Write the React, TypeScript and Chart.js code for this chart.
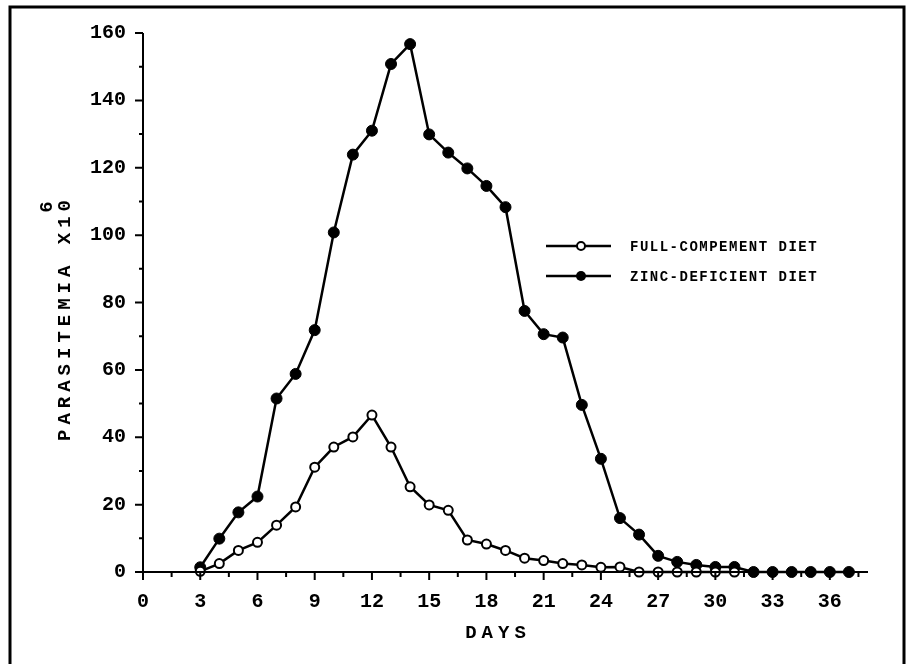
import React, { useEffect, useRef } from "react";
import { Chart, registerables } from "chart.js";

Chart.register(...registerables);

// ---- data ----
const FULL_DAYS = [3, 4, 5, 6, 7, 8, 9, 10, 11, 12, 13, 14, 15, 16, 17, 18, 19, 20, 21, 22, 23, 24, 25, 26, 27, 28, 29, 30, 31];
const FULL_VALUES = [0.2, 2.5, 6.4, 8.8, 13.9, 19.3, 31.1, 37.1, 40.1, 46.6, 37.1, 25.3, 19.9, 18.3, 9.5, 8.3, 6.4, 4.1, 3.4, 2.5, 2.1, 1.4, 1.5, 0, 0, 0, 0, 0, 0];
const ZINC_DAYS = [3, 4, 5, 6, 7, 8, 9, 10, 11, 12, 13, 14, 15, 16, 17, 18, 19, 20, 21, 22, 23, 24, 25, 26, 27, 28, 29, 30, 31, 32, 33, 34, 35, 36, 37];
const ZINC_VALUES = [1.4, 9.9, 17.7, 22.4, 51.5, 58.8, 71.8, 100.8, 123.9, 131, 150.8, 156.7, 129.9, 124.5, 119.8, 114.6, 108.3, 77.5, 70.6, 69.6, 49.6, 33.6, 16, 11.1, 4.8, 3.0, 2.1, 1.5, 1.5, 0, 0, 0, 0, 0, 0];

const X_LABEL_TICKS = [0, 3, 6, 9, 12, 15, 18, 21, 24, 27, 30, 33, 36];
const X_MINOR_TICKS = [1.5, 4.5, 7.5, 10.5, 13.5, 16.5, 19.5, 22.5, 25.5, 28.5, 31.5, 34.5, 37.5];
const Y_LABEL_TICKS = [0, 20, 40, 60, 80, 100, 120, 140, 160];
const Y_MINOR_TICKS = [10, 30, 50, 70, 90, 110, 130, 150];

const SERIES_NAMES = ["FULL-COMPEMENT DIET", "ZINC-DEFICIENT DIET"];
const X_TITLE = "DAYS";
const Y_TITLE = "PARASITEMIA X10";
const Y_TITLE_EXP = "6";

const MONO = "'Liberation Mono', 'Courier New', monospace";

const decorPlugin = {
  id: "decor",
  afterDraw(chart: any) {
    const ctx = chart.ctx as CanvasRenderingContext2D;
    const xs = chart.scales.x;
    const ys = chart.scales.y;
    const left = xs.getPixelForValue(0);
    const y0 = ys.getPixelForValue(0);
    const yTop = ys.getPixelForValue(160);
    const xRight = xs.getPixelForValue(38);
    ctx.save();
    ctx.strokeStyle = "#000";
    ctx.fillStyle = "#000";

    // outer frame (open at bottom)
    ctx.lineWidth = 3;
    ctx.beginPath();
    ctx.moveTo(10, 664);
    ctx.lineTo(10, 7);
    ctx.lineTo(904, 7);
    ctx.lineTo(904, 664);
    ctx.stroke();

    // axes
    ctx.lineWidth = 2;
    ctx.beginPath();
    ctx.moveTo(left, yTop);
    ctx.lineTo(left, y0 + 7);
    ctx.moveTo(left - 8, y0);
    ctx.lineTo(xRight, y0);
    ctx.stroke();

    // x ticks
    ctx.beginPath();
    X_LABEL_TICKS.forEach((v) => {
      const px = xs.getPixelForValue(v);
      ctx.moveTo(px, y0);
      ctx.lineTo(px, y0 + 8);
    });
    X_MINOR_TICKS.forEach((v) => {
      const px = xs.getPixelForValue(v);
      ctx.moveTo(px, y0);
      ctx.lineTo(px, y0 + 5);
    });
    // y ticks
    Y_LABEL_TICKS.forEach((v) => {
      const py = ys.getPixelForValue(v);
      ctx.moveTo(left - 8, py);
      ctx.lineTo(left, py);
    });
    Y_MINOR_TICKS.forEach((v) => {
      const py = ys.getPixelForValue(v);
      ctx.moveTo(left - 4, py);
      ctx.lineTo(left, py);
    });
    ctx.stroke();

    // axis titles
    (ctx as any).letterSpacing = "5px";
    ctx.font = `bold 19px ${MONO}`;
    ctx.textAlign = "center";
    ctx.textBaseline = "middle";
    ctx.fillText(X_TITLE, 498, 633);

    ctx.save();
    ctx.translate(65, 318);
    ctx.rotate(-Math.PI / 2);
    ctx.fillText(Y_TITLE, 0, 0);
    (ctx as any).letterSpacing = "0px";
    ctx.fillText(Y_TITLE_EXP, 111, -18);
    ctx.restore();

    // legend
    const rows = [
      { y: 246, open: true },
      { y: 276, open: false },
    ];
    rows.forEach((r, i) => {
      ctx.lineWidth = 2.5;
      ctx.beginPath();
      ctx.moveTo(546, r.y);
      ctx.lineTo(611, r.y);
      ctx.stroke();
      ctx.beginPath();
      if (r.open) {
        ctx.arc(581, r.y, 4, 0, Math.PI * 2);
        ctx.fillStyle = "#fff";
        ctx.fill();
        ctx.lineWidth = 2;
        ctx.stroke();
      } else {
        ctx.arc(581, r.y, 5, 0, Math.PI * 2);
        ctx.fillStyle = "#000";
        ctx.fill();
      }
      ctx.fillStyle = "#000";
      (ctx as any).letterSpacing = "1.5px";
      ctx.font = `bold 14px ${MONO}`;
      ctx.textAlign = "left";
      ctx.textBaseline = "middle";
      ctx.fillText(SERIES_NAMES[i], 630, r.y + 1);
    });
    ctx.restore();
  },
};

export default function App() {
  const canvasRef = useRef<HTMLCanvasElement | null>(null);

  useEffect(() => {
    const canvas = canvasRef.current;
    if (!canvas) return;
    const fullData = FULL_DAYS.map((d, i) => ({ x: d, y: FULL_VALUES[i] }));
    const zincData = ZINC_DAYS.map((d, i) => ({ x: d, y: ZINC_VALUES[i] }));
    const tickFont = { family: MONO, size: 20, weight: "bold" as const };

    const chart = new Chart(canvas, {
      type: "line",
      data: {
        datasets: [
          {
            label: SERIES_NAMES[0],
            data: fullData,
            borderColor: "#000",
            borderWidth: 2.5,
            pointRadius: 4.5,
            pointBackgroundColor: "#fff",
            pointBorderColor: "#000",
            pointBorderWidth: 2,
            tension: 0,
            clip: false as any,
          },
          {
            label: SERIES_NAMES[1],
            data: zincData,
            borderColor: "#000",
            borderWidth: 2.5,
            pointRadius: 5.5,
            pointBackgroundColor: "#000",
            pointBorderColor: "#000",
            pointBorderWidth: 1,
            tension: 0,
            clip: false as any,
          },
        ],
      },
      options: {
        animation: false,
        responsive: false,
        devicePixelRatio: 1,
        layout: { padding: { left: 0, right: 38, top: 33, bottom: 0 } },
        plugins: {
          legend: { display: false },
          tooltip: { enabled: false },
          title: { display: false },
        },
        scales: {
          x: {
            type: "linear",
            min: 0,
            max: 38,
            afterFit: (s: any) => {
              s.height = 92;
            },
            afterBuildTicks: (s: any) => {
              s.ticks = X_LABEL_TICKS.map((v) => ({ value: v }));
            },
            grid: { display: false, drawTicks: false },
            border: { display: false },
            ticks: {
              color: "#000",
              font: tickFont,
              padding: 18,
              maxRotation: 0,
              autoSkip: false,
            },
          },
          y: {
            type: "linear",
            min: 0,
            max: 160,
            afterFit: (s: any) => {
              s.width = 143;
            },
            afterBuildTicks: (s: any) => {
              s.ticks = Y_LABEL_TICKS.map((v) => ({ value: v }));
            },
            grid: { display: false, drawTicks: false },
            border: { display: false },
            ticks: {
              color: "#000",
              font: tickFont,
              padding: 17,
              autoSkip: false,
            },
          },
        },
      },
      plugins: [decorPlugin],
    });
    return () => chart.destroy();
  }, []);

  return (
    <div style={{ position: "fixed", left: 0, top: 0, width: 906, height: 664, background: "#fff" }}>
      <canvas ref={canvasRef} width={906} height={664} />
    </div>
  );
}
